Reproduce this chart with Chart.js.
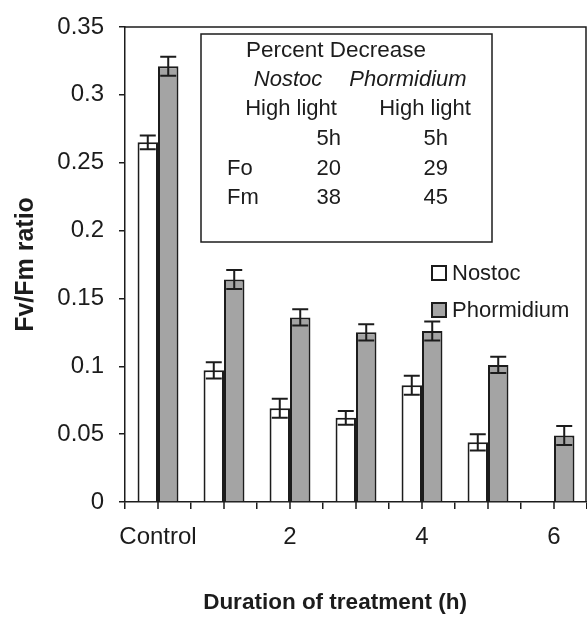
<!DOCTYPE html>
<html>
<head>
<meta charset="utf-8">
<script src="https://cdn.jsdelivr.net/npm/chart.js@4/dist/chart.umd.min.js"></script>
<style>
  html, body { margin: 0; padding: 0; background: #fff; }
  #wrap { width: 587px; height: 633px; }
</style>
</head>
<body>
<div id="wrap"><canvas id="chart" width="587" height="633"></canvas></div>
<script>
// Fv/Fm ratio under high light, Nostoc vs Phormidium

const categories = ['Control', '1', '2', '3', '4', '5', '6'];
const nostoc = [0.265, 0.097, 0.069, 0.062, 0.086, 0.044, null];
const nostocErr = [0.005, 0.006, 0.007, 0.005, 0.007, 0.006, null];
const phormidium = [0.321, 0.164, 0.136, 0.125, 0.126, 0.101, 0.049];
const phormidiumErr = [0.007, 0.007, 0.006, 0.006, 0.007, 0.006, 0.007];

// inset table: percent decrease after 5h high light
const tableTitle = 'Percent Decrease';
const tableSpecies = ['Nostoc', 'Phormidium'];
const tableCondition = ['High light', 'High light'];
const tableRows = [
    ['', '5h', '5h'],
    ['Fo', '20', '29'],
    ['Fm', '38', '45'],
];

const FONT = '"Liberation Sans", Arial, Helvetica, sans-serif';
const INK = '#1c1c1c';

const errorBars = {
    id: 'errorBars',
    afterDatasetsDraw(chart) {
        const { ctx } = chart;
        const y = chart.scales.y;
        const errs = [nostocErr, phormidiumErr];
        chart.data.datasets.forEach((ds, di) => {
            chart.getDatasetMeta(di).data.forEach((bar, i) => {
                const v = ds.data[i], e = errs[di][i];
                if (v == null || e == null) return;
                const yt = y.getPixelForValue(v + e);
                const yb = y.getPixelForValue(v - e);
                ctx.save();
                ctx.strokeStyle = INK;
                ctx.lineWidth = 2;
                ctx.beginPath();
                ctx.moveTo(bar.x, yt); ctx.lineTo(bar.x, yb);
                ctx.moveTo(bar.x - 8, yt); ctx.lineTo(bar.x + 8, yt);
                ctx.moveTo(bar.x - 8, yb); ctx.lineTo(bar.x + 8, yb);
                ctx.stroke();
                ctx.restore();
            });
        });
    }
};

// frame, centre ticks, legend, inset table, x title
const decorations = {
    id: 'decorations',
    afterDraw(chart) {
        const { ctx, chartArea: a } = chart;
        const x = chart.scales.x;
        ctx.save();
        ctx.strokeStyle = INK;
        ctx.lineWidth = 1.5;
        ctx.beginPath();
        ctx.moveTo(a.left, a.top); ctx.lineTo(a.right - 1, a.top); ctx.lineTo(a.right - 1, a.bottom);
        categories.forEach((c, i) => {
            const px = x.getPixelForValue(i);
            ctx.moveTo(px, a.bottom); ctx.lineTo(px, a.bottom + 7);
        });
        ctx.stroke();

        // legend
        chart.data.datasets.forEach((ds, i) => {
            const cy = 273 + i * 37;
            ctx.fillStyle = ds.backgroundColor;
            ctx.fillRect(432, cy - 7, 14, 14);
            ctx.lineWidth = 2;
            ctx.strokeRect(432, cy - 7, 14, 14);
            ctx.fillStyle = INK;
            ctx.font = `22px ${FONT}`;
            ctx.textAlign = 'left';
            ctx.textBaseline = 'middle';
            ctx.fillText(ds.label, 452, cy + 1);
        });

        // inset table
        ctx.lineWidth = 1.5;
        ctx.strokeRect(201, 34, 291, 208);
        ctx.fillStyle = INK;
        ctx.textBaseline = 'middle';
        ctx.font = `22.5px ${FONT}`;
        ctx.textAlign = 'center';
        ctx.fillText(tableTitle, 336, 51);
        ctx.font = `italic 22px ${FONT}`;
        ctx.fillText(tableSpecies[0], 288, 80);
        ctx.fillText(tableSpecies[1], 408, 80);
        ctx.font = `22px ${FONT}`;
        ctx.fillText(tableCondition[0], 291, 109);
        ctx.fillText(tableCondition[1], 425, 109);
        tableRows.forEach((row, r) => {
            const ry = 139 + r * 29.5;
            ctx.textAlign = 'left';
            ctx.fillText(row[0], 227, ry);
            ctx.textAlign = 'right';
            ctx.fillText(row[1], 341, ry);
            ctx.fillText(row[2], 448, ry);
        });

        // x axis title
        ctx.font = `bold 22.5px ${FONT}`;
        ctx.textAlign = 'center';
        ctx.fillText('Duration of treatment (h)', 335, 603);
        ctx.restore();
    }
};

new Chart(document.getElementById('chart'), {
    type: 'bar',
    data: {
        labels: categories,
        datasets: [
            {
                label: 'Nostoc',
                data: nostoc,
                backgroundColor: '#ffffff',
                borderColor: INK,
                borderWidth: 2,
                categoryPercentage: 0.62,
                barPercentage: 1.0,
            },
            {
                label: 'Phormidium',
                data: phormidium,
                backgroundColor: '#a4a4a4',
                borderColor: INK,
                borderWidth: 2,
                categoryPercentage: 0.62,
                barPercentage: 1.0,
            },
        ],
    },
    options: {
        responsive: false,
        animation: false,
        devicePixelRatio: 1,
        layout: { padding: { top: 26, right: 0, bottom: 0, left: 0 } },
        plugins: {
            legend: { display: false },
            tooltip: { enabled: false },
        },
        scales: {
            x: {
                grid: { offset: true, drawOnChartArea: false, tickLength: 7, color: INK, lineWidth: 1.5 },
                border: { color: INK, width: 1.5 },
                ticks: {
                    color: INK,
                    font: { family: FONT, size: 24 },
                    padding: 14,
                    maxRotation: 0,
                    autoSkip: false,
                    callback: (v, i) => (i % 2 === 0 ? categories[i] : ''),
                },
                afterFit: s => { s.height = 131; },
            },
            y: {
                min: 0,
                max: 0.35,
                grid: { drawOnChartArea: false, tickLength: 6, color: INK, lineWidth: 1.5 },
                border: { color: INK, width: 1.5 },
                ticks: {
                    stepSize: 0.05,
                    color: INK,
                    font: { family: FONT, size: 24, lineHeight: 1 },
                    padding: 15,
                    callback: v => String(+v.toFixed(2)),
                },
                title: {
                    display: true,
                    text: 'Fv/Fm ratio',
                    color: INK,
                    font: { family: FONT, size: 25, weight: 'bold' },
                    padding: { top: 11, bottom: 0 },
                },
                afterFit: s => { s.width = 125; },
            },
        },
    },
    plugins: [errorBars, decorations],
});
</script>
</body>
</html>
